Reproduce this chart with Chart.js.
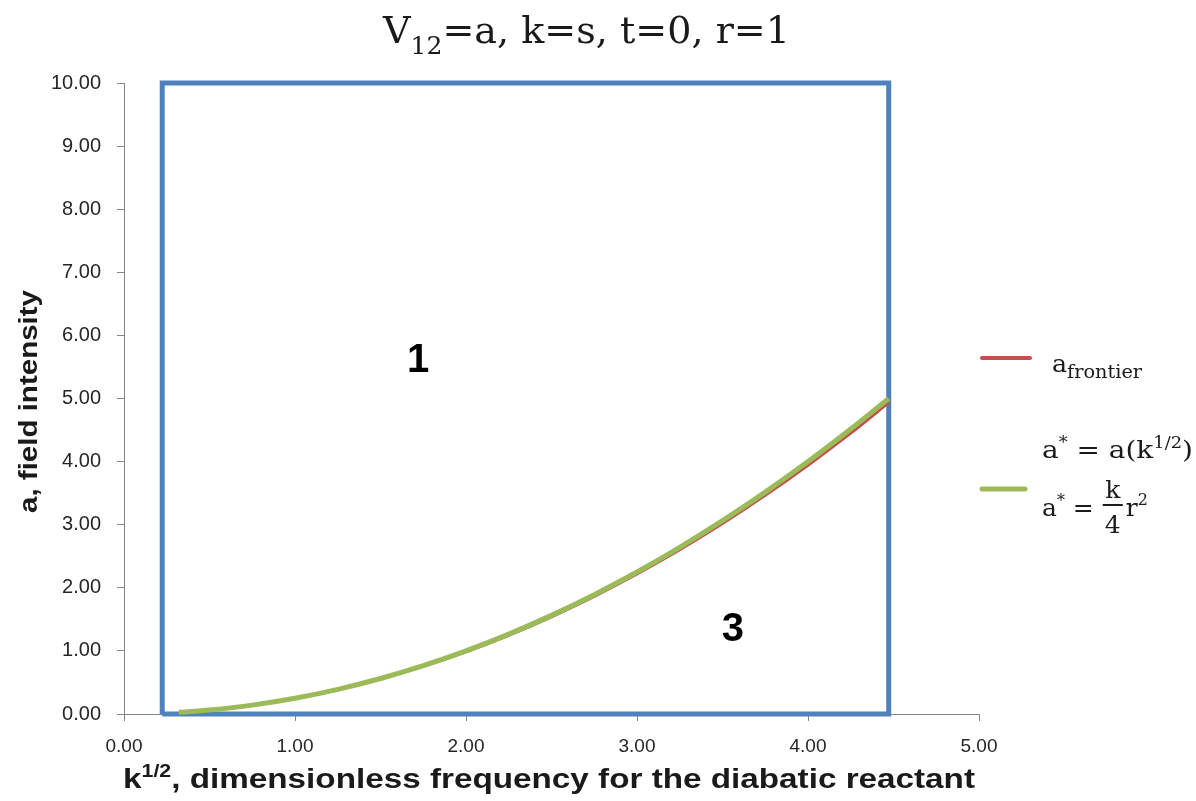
<!DOCTYPE html>
<html>
<head>
<meta charset="utf-8">
<script src="https://cdn.jsdelivr.net/npm/chart.js@4"></script>
<style>
  html, body { margin: 0; padding: 0; background: #fff; }
</style>
</head>
<body>
<canvas id="myChart" width="1196" height="801"></canvas>
<script>
// a_frontier, computed curve
var frontierX = [0.38, 0.5, 0.75, 1.0, 1.25, 1.5, 1.75, 2.0, 2.25, 2.5, 2.75, 3.0, 3.25, 3.5, 3.75, 4.0, 4.25, 4.472];
var frontierY = [0.034, 0.059, 0.137, 0.245, 0.384, 0.553, 0.754, 0.984, 1.247, 1.540, 1.863, 2.218, 2.603, 3.018, 3.465, 3.942, 4.451, 4.935];

// a* = k/4 r^2 with r = 1
var starX = [0.32, 0.5, 0.75, 1.0, 1.25, 1.5, 1.75, 2.0, 2.25, 2.5, 2.75, 3.0, 3.25, 3.5, 3.75, 4.0, 4.25, 4.472];
var starY = [0.026, 0.063, 0.141, 0.25, 0.391, 0.563, 0.766, 1.0, 1.266, 1.563, 1.891, 2.25, 2.641, 3.063, 3.516, 4.0, 4.516, 5.0];

// box around the explored range of k^1/2
var boxX = [0.2236, 0.2236, 4.472, 4.472, 0.2236];
var boxY = [0, 10, 10, 0, 0];

// region numbers
var regionText = ['1', '3'];
var regionX = [1.72, 3.56];
var regionY = [5.6, 1.33];

function toPoints(xs, ys) {
    return xs.map(function (x, i) { return { x: x, y: ys[i] }; });
}

// draw a row of text pieces with different sizes / vertical shifts
function drawRuns(ctx, x, y, runs) {
    runs.forEach(function (r) {
        ctx.font = (r.bold ? 'bold ' : '') + r.size + 'px ' + r.family;
        ctx.fillText(r.t, x, y + (r.dy || 0));
        x += ctx.measureText(r.t).width;
    });
    return x;
}
function runsWidth(ctx, runs) {
    var w = 0;
    runs.forEach(function (r) {
        ctx.font = (r.bold ? 'bold ' : '') + r.size + 'px ' + r.family;
        w += ctx.measureText(r.t).width;
    });
    return w;
}
// same, but stretched sideways so the row spans `width` px
function drawRunsFit(ctx, x, y, runs, width) {
    var sx = width / runsWidth(ctx, runs);
    ctx.save();
    ctx.translate(x, y);
    ctx.scale(sx, 1);
    drawRuns(ctx, 0, 0, runs);
    ctx.restore();
}

var SERIF = '"DejaVu Serif", "Liberation Serif", serif';
var SANS = '"Liberation Sans", Arial, sans-serif';

var textPlugin = {
    id: 'texts',
    afterDraw: function (chart) {
        var ctx = chart.ctx;
        var xs = chart.scales.x, ys = chart.scales.y, area = chart.chartArea;
        ctx.save();
        ctx.textAlign = 'left';
        ctx.textBaseline = 'alphabetic';
        ctx.fillStyle = '#1a1a1a';

        // title
        var title = [
            { t: 'V', size: 38, family: SERIF },
            { t: '12', size: 25, family: SERIF, dy: 11 },
            { t: '=a, k=s, t=0, r=1', size: 38, family: SERIF }
        ];
        drawRunsFit(ctx, 383, 43, title, 407);

        // x axis title
        var xt = [
            { t: 'k', size: 28, family: SANS, bold: true },
            { t: '1/2', size: 18, family: SANS, bold: true, dy: -11 },
            { t: ', dimensionless frequency for the diabatic reactant', size: 28, family: SANS, bold: true }
        ];
        drawRunsFit(ctx, 123, 788, xt, 852);

        // y axis title
        ctx.save();
        ctx.translate(37, 513);
        ctx.rotate(-Math.PI / 2);
        drawRunsFit(ctx, 0, 0, [{ t: 'a, field intensity', size: 26, family: SANS, bold: true }], 223);
        ctx.restore();

        // region numbers
        ctx.textAlign = 'center';
        ctx.textBaseline = 'middle';
        ctx.font = 'bold 40px ' + SANS;
        ctx.fillStyle = '#000';
        regionText.forEach(function (t, i) {
            ctx.fillText(t, xs.getPixelForValue(regionX[i]), ys.getPixelForValue(regionY[i]));
        });

        // legend
        var ds = chart.data.datasets;
        var lx = area.right + 3;
        ctx.lineCap = 'round';
        ctx.strokeStyle = ds[0].borderColor;
        ctx.lineWidth = 4;
        ctx.beginPath(); ctx.moveTo(lx, 358); ctx.lineTo(lx + 48, 358); ctx.stroke();
        ctx.strokeStyle = ds[1].borderColor;
        ctx.lineWidth = 5;
        ctx.beginPath(); ctx.moveTo(lx, 489); ctx.lineTo(lx + 43, 489); ctx.stroke();

        ctx.textAlign = 'left';
        ctx.textBaseline = 'alphabetic';
        ctx.fillStyle = '#1a1a1a';
        drawRunsFit(ctx, 1052, 372, [
            { t: 'a', size: 25, family: SERIF },
            { t: 'frontier', size: 19, family: SERIF, dy: 6 }
        ], 90);
        drawRunsFit(ctx, 1042, 458, [
            { t: 'a', size: 25, family: SERIF },
            { t: '*', size: 16, family: SERIF, dy: -10 },
            { t: ' = a(k', size: 25, family: SERIF },
            { t: '1/2', size: 16, family: SERIF, dy: -10 },
            { t: ')', size: 25, family: SERIF }
        ], 151);
        var fx = drawRuns(ctx, 1042, 516, [
            { t: 'a', size: 25, family: SERIF },
            { t: '*', size: 16, family: SERIF, dy: -10 },
            { t: ' = ', size: 25, family: SERIF }
        ]);
        var fc = fx + 11;
        ctx.textAlign = 'center';
        ctx.font = '25px ' + SERIF;
        ctx.fillText('k', fc, 498);
        ctx.fillText('4', fc, 533);
        ctx.fillRect(fc - 10, 504, 20, 2);
        ctx.textAlign = 'left';
        drawRuns(ctx, fc + 13, 516, [
            { t: 'r', size: 25, family: SERIF },
            { t: '2', size: 16, family: SERIF, dy: -11 }
        ]);
        ctx.restore();
    }
};

var ctx = document.getElementById('myChart').getContext('2d');
var myChart = new Chart(ctx, {
    type: 'scatter',
    data: {
        datasets: [{
            label: 'a_frontier',
            data: toPoints(frontierX, frontierY),
            borderColor: '#C0504D',
            borderWidth: 3,
            showLine: true,
            pointRadius: 0,
            tension: 0.3,
            order: 1,
            clip: false
        }, {
            label: 'a* = k/4 r^2',
            data: toPoints(starX, starY),
            borderColor: '#9BBB59',
            borderWidth: 5,
            showLine: true,
            pointRadius: 0,
            tension: 0.3,
            order: 0,
            clip: false
        }, {
            label: 'box',
            data: toPoints(boxX, boxY),
            borderColor: '#4F81BD',
            borderWidth: 5,
            showLine: true,
            pointRadius: 0,
            order: 2,
            clip: false
        }]
    },
    options: {
        responsive: false,
        animation: false,
        layout: { padding: { top: 83, right: 217, left: 0, bottom: 0 } },
        plugins: {
            legend: { display: false },
            tooltip: { enabled: false }
        },
        scales: {
            x: {
                type: 'linear',
                min: 0,
                max: 5,
                afterFit: function (scale) { scale.height = 87; },
                grid: { drawOnChartArea: false, drawTicks: true, tickLength: 7, color: '#868686' },
                border: { color: '#868686', width: 1 },
                ticks: {
                    stepSize: 1,
                    padding: 14,
                    color: '#262626',
                    font: { family: '"Liberation Sans Narrow", "Liberation Sans", sans-serif', size: 19 },
                    callback: function (v) { return v.toFixed(2); }
                }
            },
            y: {
                type: 'linear',
                min: 0,
                max: 10,
                afterFit: function (scale) { scale.width = 124; },
                grid: { drawOnChartArea: false, drawTicks: true, tickLength: 7, color: '#868686' },
                border: { color: '#868686', width: 1 },
                ticks: {
                    stepSize: 1,
                    padding: 16,
                    color: '#262626',
                    font: { family: SANS, size: 20 },
                    callback: function (v) { return v.toFixed(2); }
                }
            }
        }
    },
    plugins: [textPlugin]
});
</script>
</body>
</html>
